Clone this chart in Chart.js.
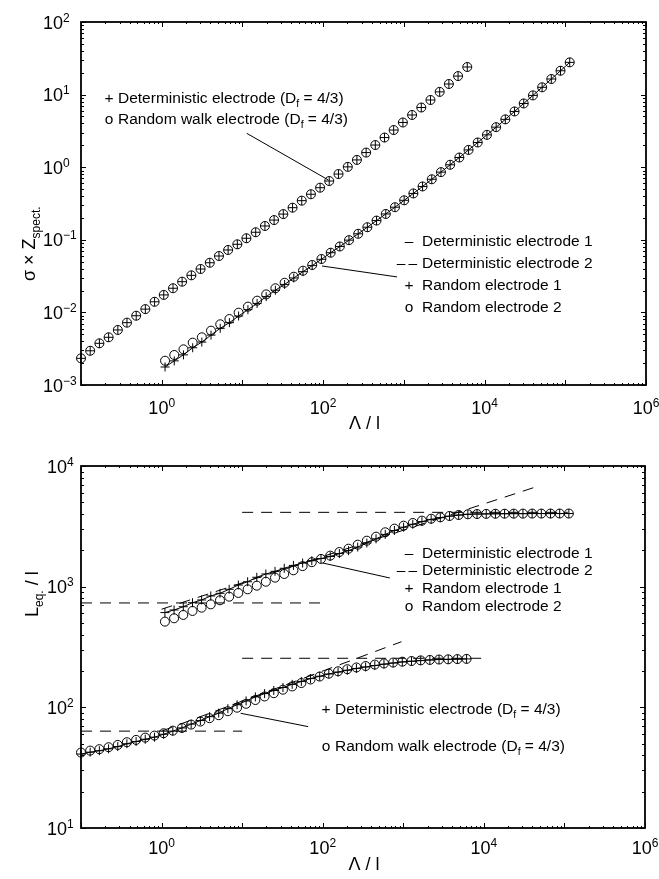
<!DOCTYPE html>
<html>
<head>
<meta charset="utf-8">
<title>sigma Z and L_eq vs Lambda</title>
<script src="https://cdn.jsdelivr.net/npm/chart.js@4.4.1/dist/chart.umd.min.js"></script>
<style>
  html, body { margin: 0; padding: 0; background: #fff; overflow: hidden; }
  #wrap { position: relative; width: 659px; height: 879px; }
  canvas { position: absolute; left: 0; }
  #topChart { top: 0; }
  #bottomChart { top: 440px; }
</style>
</head>
<body>
<div id="wrap">
  <canvas id="topChart" width="659" height="440"></canvas>
  <canvas id="bottomChart" width="659" height="439"></canvas>
</div>
<script>
// Λ / l sampling (two grids used by the curves)
const lambdaFine = [0.1, 0.13, 0.169, 0.22, 0.286, 0.371, 0.483, 0.627, 0.816, 1.06,
  1.38, 1.79, 2.33, 3.03, 3.94, 5.12, 6.65, 8.65, 11.2, 14.6,
  19.0, 24.7, 32.1, 41.8, 54.3, 70.6, 91.7, 119, 155, 202,
  262, 341, 443, 576, 748, 973, 1265, 1644, 2137, 2778,
  3612, 4696, 6104];
const lambdaCoarse = [1.1, 1.43, 1.86, 2.42, 3.14, 4.08, 5.31, 6.90, 8.97, 11.7,
  15.2, 19.7, 25.6, 33.3, 43.3, 56.3, 73.2, 95.2, 124, 161,
  209, 272, 353, 459, 597, 776, 1009, 1312, 1705, 2217,
  2882, 3747, 4871, 6332, 8231, 10701, 13911, 18084, 23509, 30562,
  39731, 51651, 67145, 87288, 113475];

// top panel: sigma x Z_spect.
const zFractal = [0.00233, 0.00296, 0.00375, 0.00454, 0.00573, 0.00722, 0.0090, 0.0111, 0.0140, 0.0174,
  0.0215, 0.0265, 0.0324, 0.0396, 0.0483, 0.0598, 0.0724, 0.0867, 0.105, 0.127,
  0.155, 0.187, 0.226, 0.277, 0.346, 0.424, 0.522, 0.645, 0.805, 1.01,
  1.26, 1.59, 2.02, 2.56, 3.25, 4.13, 5.24, 6.64, 8.43, 10.9,
  14.0, 18.0, 24.0];
const zRandom1 = [0.00177, 0.00215, 0.00260, 0.00326, 0.00390, 0.00487, 0.00604, 0.00722, 0.00892, 0.0109,
  0.0133, 0.0165, 0.0202, 0.0243, 0.0298, 0.0364, 0.0441, 0.0539, 0.0664, 0.0809,
  0.0989, 0.121, 0.149, 0.184, 0.227, 0.281, 0.350, 0.435, 0.543, 0.682,
  0.855, 1.08, 1.36, 1.73, 2.19, 2.79, 3.56, 4.56, 5.86, 7.55,
  9.75, 12.6, 16.4, 21.3, 27.8];
const zRandom2 = [0.00216, 0.00259, 0.00310, 0.00383, 0.00454, 0.00560, 0.00686, 0.00811, 0.00991, 0.0120,
  0.0145, 0.0177, 0.0215, 0.0256, 0.0310, 0.0375, 0.0450, 0.0544, 0.0664, 0.0809,
  0.0989, 0.121, 0.149, 0.184, 0.227, 0.281, 0.350, 0.435, 0.543, 0.682,
  0.855, 1.08, 1.36, 1.73, 2.19, 2.79, 3.56, 4.56, 5.86, 7.55,
  9.75, 12.6, 16.4, 21.3, 27.8];

// bottom panel: L_eq. / l
const lFractal1 = [41.0, 42.5, 43.7, 45.3, 47.3, 49.9, 52.1, 54.4, 56.6, 59.8,
  63.5, 67.5, 72.6, 77.7, 83.7, 89.5, 97.5, 105, 113, 122,
  130, 138, 146, 155, 164, 173, 181, 189, 196, 203,
  210, 216, 222, 228, 233, 238, 241, 244, 247, 249,
  250, 251, 252];
const lFractal2 = [42.2, 43.8, 45.0, 46.7, 48.8, 51.4, 53.7, 56.1, 58.3, 61.0,
  64.1, 67.5, 71.9, 76.2, 81.3, 86.1, 92.9, 99.3, 107, 115,
  123, 131, 140, 149, 159, 170, 180, 190, 199, 207,
  214, 220, 226, 231, 235, 239, 242, 245, 247, 249,
  250, 251, 252];
const lRandom1 = [610, 641, 682, 736, 776, 838, 881, 951, 1032, 1099,
  1196, 1274, 1340, 1420, 1500, 1570, 1640, 1710, 1780, 1880,
  1990, 2130, 2300, 2490, 2710, 2920, 3110, 3290, 3460, 3610,
  3730, 3840, 3920, 3980, 4000, 4010, 4020, 4025, 4030, 4030,
  4035, 4035, 4035, 4037, 4037];
const lRandom2 = [513, 547, 583, 629, 670, 714, 771, 826, 887, 951,
  1019, 1099, 1188, 1274, 1367, 1480, 1595, 1698, 1808, 1937,
  2064, 2228, 2404, 2596, 2823, 3026, 3201, 3372, 3524, 3657,
  3756, 3853, 3927, 3981, 4000, 4010, 4020, 4025, 4030, 4030,
  4035, 4035, 4035, 4037, 4037];

// dashed asymptotes in the bottom panel
const asymLowFlatX = [0.1, 10], asymLowFlatY = [63.5, 63.5];
const asymLowPlatX = [10, 10000], asymLowPlatY = [255, 255];
const asymLowSlopeX = [1, 950], asymLowSlopeY = [63.5, 350];
const asymUpFlatX = [0.1, 100], asymUpFlatY = [733, 733];
const asymUpPlatX = [10, 110000], asymUpPlatY = [4130, 4130];
const asymUpSlopeX = [1, 41000], asymUpSlopeY = [650, 6600];

// leader lines from the labels to the curves
const topLeaderA = { x: [11.3, 116], y: [2.93, 0.667] };
const topLeaderB = { x: [96.8, 824], y: [0.0436, 0.0308] };
const botLeaderA = { x: [9.57, 66], y: [89.3, 69.2] };
const botLeaderB = { x: [100, 682], y: [1571, 1180] };

// tick exponents
const xTickExp = [-1, 0, 1, 2, 3, 4, 5, 6];
const xLabelExp = [0, 2, 4, 6];
const topYExp = [-3, -2, -1, 0, 1, 2];
const botYExp = [1, 2, 3, 4];

const FONT = '"Liberation Sans", Arial, Helvetica, sans-serif';

function pts(xs, ys) {
  return xs.map((x, i) => ({ x: x, y: ys[i] }));
}

function markers(xs, ys, style) {
  return {
    data: pts(xs, ys), showLine: false, pointStyle: style,
    pointRadius: 4.5, pointHoverRadius: 4.5, pointBorderWidth: 1,
    borderColor: '#000', backgroundColor: 'rgba(0,0,0,0)', clip: false
  };
}

function curve(xs, ys, dash) {
  return {
    data: pts(xs, ys), showLine: true, pointRadius: 0, pointHoverRadius: 0,
    borderColor: '#000', borderWidth: 1, borderDash: dash || [], fill: false, clip: false
  };
}

function drawPow(ctx, exp, x, y, align) {
  const es = exp < 0 ? '\u2212' + Math.abs(exp) : String(exp);
  ctx.font = '18px ' + FONT;
  const wb = ctx.measureText('10').width;
  ctx.font = '12px ' + FONT;
  const we = ctx.measureText(es).width;
  const x0 = align === 'center' ? x - (wb + we) / 2 : x;
  ctx.textAlign = 'left';
  ctx.textBaseline = 'alphabetic';
  ctx.font = '18px ' + FONT;
  ctx.fillText('10', x0, y + 6.5);
  ctx.font = '12px ' + FONT;
  ctx.fillText(es, x0 + wb, y - 0.5);
}

// parts: [text, size, dy]
function drawRich(ctx, parts, x, y) {
  ctx.textAlign = 'left';
  ctx.textBaseline = 'alphabetic';
  let cx = x;
  parts.forEach(([t, size, dy]) => {
    ctx.font = size + 'px ' + FONT;
    ctx.fillText(t, cx, y + (dy || 0));
    cx += ctx.measureText(t).width;
  });
}

const axesPlugin = {
  id: 'axesDeco',
  afterDraw(chart) {
    const o = chart.options.plugins.axesDeco;
    const ctx = chart.ctx;
    const a = chart.chartArea;
    const xs = chart.scales.x, ys = chart.scales.y;
    ctx.save();
    ctx.strokeStyle = '#000';
    ctx.fillStyle = '#000';

    // inward ticks, majors and minors
    ctx.lineWidth = 1;
    ctx.beginPath();
    xTickExp.forEach(e => {
      for (let m = 1; m < 10; m++) {
        if (e === 6 && m > 1) break;
        const px = Math.round(xs.getPixelForValue(m * Math.pow(10, e))) + 0.5;
        const len = m === 1 ? 5 : 2;
        ctx.moveTo(px, a.bottom); ctx.lineTo(px, a.bottom - len);
        ctx.moveTo(px, a.top); ctx.lineTo(px, a.top + len);
      }
    });
    o.yExp.forEach((e, i) => {
      for (let m = 1; m < 10; m++) {
        if (i === o.yExp.length - 1 && m > 1) break;
        const py = Math.round(ys.getPixelForValue(m * Math.pow(10, e))) + 0.5;
        const len = m === 1 ? 5 : 3;
        ctx.moveTo(a.left, py); ctx.lineTo(a.left + len, py);
        ctx.moveTo(a.right, py); ctx.lineTo(a.right - len, py);
      }
    });
    ctx.stroke();

    ctx.lineWidth = 1.8;
    ctx.strokeRect(a.left, a.top, a.right - a.left, a.bottom - a.top);

    // tick labels
    xLabelExp.forEach(e => {
      drawPow(ctx, e, xs.getPixelForValue(Math.pow(10, e)), a.bottom + o.xLabelGap, 'center');
    });
    o.yExp.forEach(e => {
      drawPow(ctx, e, o.yLabelX, ys.getPixelForValue(Math.pow(10, e)), 'left');
    });

    // axis titles
    ctx.font = '18px ' + FONT;
    ctx.textAlign = 'center';
    ctx.textBaseline = 'middle';
    ctx.fillText('\u039B / l', (a.left + a.right) / 2 + 1, o.xTitleY);

    ctx.save();
    ctx.translate(o.yTitle.x, o.yTitle.y);
    ctx.rotate(-Math.PI / 2);
    drawRich(ctx, o.yTitle.parts, 0, 0);
    ctx.restore();

    // notes and legend text
    o.notes.forEach(n => {
      ctx.font = '15.5px ' + FONT;
      ctx.textAlign = 'center';
      ctx.textBaseline = 'alphabetic';
      ctx.fillText(n.mark, n.mx, n.y + 5.5);
      drawRich(ctx, n.parts, n.x, n.y + 5.5);
    });
    ctx.restore();
  }
};

function subText(main, tail) {
  return [[main, 15.5], ['f', 10.5, 4], [tail, 15.5]];
}

function makeChart(id, datasets, yMin, yMax, padding, deco) {
  return new Chart(document.getElementById(id), {
    type: 'scatter',
    data: { datasets: datasets },
    options: {
      responsive: false,
      animation: false,
      devicePixelRatio: 1,
      layout: { padding: padding },
      events: [],
      scales: {
        x: { type: 'logarithmic', min: 0.1, max: 1e6, display: false },
        y: { type: 'logarithmic', min: yMin, max: yMax, display: false }
      },
      plugins: { legend: { display: false }, tooltip: { enabled: false }, axesDeco: deco }
    },
    plugins: [axesPlugin]
  });
}

const legendRows = (x, y0, dy) => [
  { mark: '\u2013', mx: x, x: x + 13, y: y0, parts: [['Deterministic electrode 1', 15.5]] },
  { mark: '\u2013\u2009\u2013', mx: x - 2, x: x + 13, y: y0 + dy, parts: [['Deterministic electrode 2', 15.5]] },
  { mark: '+', mx: x, x: x + 13, y: y0 + 2 * dy, parts: [['Random electrode 1', 15.5]] },
  { mark: 'o', mx: x, x: x + 13, y: y0 + 3 * dy, parts: [['Random electrode 2', 15.5]] }
];

makeChart('topChart', [
  curve(topLeaderA.x, topLeaderA.y),
  curve(topLeaderB.x, topLeaderB.y),
  curve(lambdaCoarse, zRandom1),
  markers(lambdaFine, zFractal, 'cross'),
  markers(lambdaFine, zFractal, 'circle'),
  markers(lambdaCoarse, zRandom1, 'cross'),
  markers(lambdaCoarse, zRandom2, 'circle')
], 1e-3, 100, { left: 81, top: 22, right: 13, bottom: 55 }, {
  yExp: topYExp,
  yLabelX: 43,
  xLabelGap: 22,
  xTitleY: 424,
  yTitle: { x: 35, y: 281, parts: [['\u03C3 \u00D7 Z', 18], ['spect.', 12, 5]] },
  notes: [
    { mark: '+', mx: 109, x: 118, y: 97, parts: subText('Deterministic electrode (D', ' = 4/3)') },
    { mark: 'o', mx: 109, x: 118, y: 118, parts: subText('Random walk electrode (D', ' = 4/3)') }
  ].concat(legendRows(409, 240, 22))
});

makeChart('bottomChart', [
  curve(asymLowFlatX, asymLowFlatY, [11, 8]),
  curve(asymLowPlatX, asymLowPlatY, [11, 8]),
  curve(asymLowSlopeX, asymLowSlopeY, [11, 8]),
  curve(asymUpFlatX, asymUpFlatY, [11, 8]),
  curve(asymUpPlatX, asymUpPlatY, [11, 8]),
  curve(asymUpSlopeX, asymUpSlopeY, [11, 8]),
  curve(botLeaderA.x, botLeaderA.y),
  curve(botLeaderB.x, botLeaderB.y),
  curve(lambdaFine, lFractal1),
  curve(lambdaCoarse, lRandom1),
  markers(lambdaFine, lFractal1, 'cross'),
  markers(lambdaFine, lFractal2, 'circle'),
  markers(lambdaCoarse, lRandom1, 'cross'),
  markers(lambdaCoarse, lRandom2, 'circle')
], 10, 1e4, { left: 81, top: 26, right: 14, bottom: 51 }, {
  yExp: botYExp,
  yLabelX: 47,
  xLabelGap: 19,
  xTitleY: 425,
  yTitle: { x: 38, y: 177, parts: [['L', 18], ['eq.', 12, 5], [' / l', 18]] },
  notes: [
    { mark: '+', mx: 326, x: 335, y: 268, parts: subText('Deterministic electrode (D', ' = 4/3)') },
    { mark: 'o', mx: 326, x: 335, y: 305, parts: subText('Random walk electrode (D', ' = 4/3)') }
  ].concat(legendRows(409, 112, 17.7))
});
</script>
</body>
</html>
